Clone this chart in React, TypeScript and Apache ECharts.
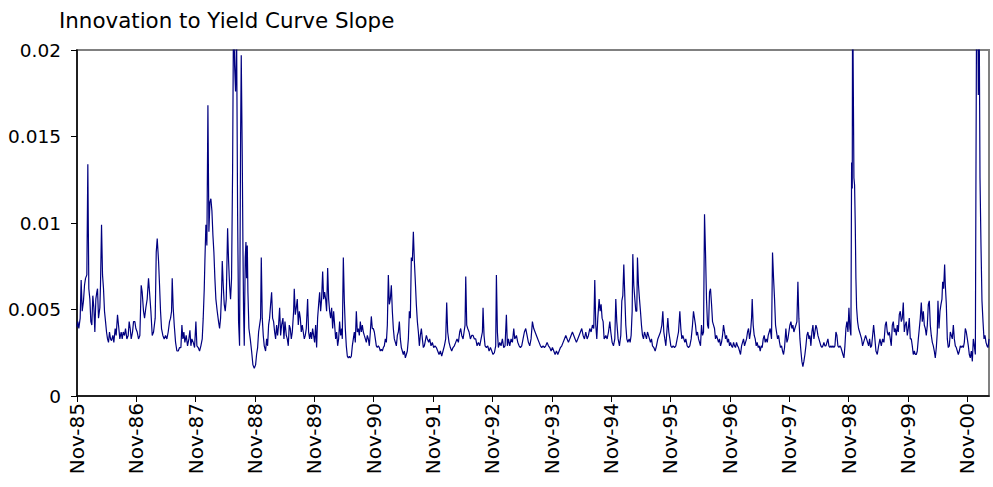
import React, { useEffect, useRef } from "react";
import * as echarts from "echarts";

// x = months since Nov-1985, y = innovation value
const seg1985: [number, number][] = [
  [0.0, 0.004], [0.17, 0.0043], [0.37, 0.0039], [0.64, 0.0045], [0.84, 0.0067], [1.05, 0.0049], [1.31, 0.0055], [1.52, 0.0064],
  [1.72, 0.0068], [1.99, 0.007], [2.19, 0.0134], [2.39, 0.0062], [2.6, 0.0056], [2.8, 0.0043], [3.0, 0.0041], [3.2, 0.0058],
  [3.41, 0.0051], [3.61, 0.0037], [3.81, 0.0056], [4.01, 0.006], [4.15, 0.0062], [4.35, 0.0045], [4.62, 0.0051], [4.75, 0.0064],
  [4.96, 0.0099], [5.16, 0.007], [5.36, 0.0062], [5.56, 0.0049], [5.77, 0.0043], [5.97, 0.0037], [6.17, 0.0033], [6.37, 0.0031],
  [6.57, 0.0037], [6.78, 0.0033], [6.98, 0.0032], [7.25, 0.0035], [7.45, 0.0031], [7.72, 0.0039], [7.92, 0.0035], [8.19, 0.0047],
  [8.46, 0.0039], [8.66, 0.0033], [8.93, 0.0037], [9.14, 0.0033], [9.34, 0.0037], [9.61, 0.0035], [9.81, 0.0039], [10.08, 0.0033],
  [10.35, 0.0035], [10.55, 0.0043], [10.76, 0.0039], [10.96, 0.0033], [11.23, 0.0037], [11.43, 0.0043], [11.7, 0.0043], [11.9, 0.0039],
  [12.17, 0.0037], [12.44, 0.0033], [12.71, 0.0035], [12.98, 0.0064], [13.18, 0.006], [13.45, 0.0049], [13.66, 0.0045], [13.92, 0.0051],
  [14.19, 0.0056], [14.46, 0.0068], [14.67, 0.006], [14.94, 0.0049], [15.21, 0.0035], [15.48, 0.0037],
];

const seg1987: [number, number][] = [
  [15.81, 0.0045], [16.02, 0.0083], [16.22, 0.0091], [16.49, 0.0078], [16.69, 0.0064], [16.89, 0.0049], [17.09, 0.0039], [17.36, 0.0035],
  [17.63, 0.0033], [17.9, 0.0035], [18.17, 0.0033], [18.44, 0.0037], [18.71, 0.0043], [18.92, 0.0045], [19.12, 0.0049], [19.25, 0.0068],
  [19.45, 0.0051], [19.66, 0.0041], [19.93, 0.0031], [20.2, 0.0026], [20.47, 0.0026], [20.74, 0.0028], [21.01, 0.0028], [21.21, 0.0041],
  [21.41, 0.0033], [21.61, 0.0037], [21.81, 0.0031], [22.08, 0.0035], [22.35, 0.0029], [22.62, 0.0033], [22.83, 0.0038], [23.03, 0.0029],
  [23.23, 0.0033], [23.5, 0.0031], [23.77, 0.0028], [24.04, 0.0043], [24.24, 0.0029], [24.51, 0.0028], [24.78, 0.0026], [25.05, 0.0029],
  [25.32, 0.0033], [25.52, 0.0045], [25.73, 0.0062], [25.86, 0.0078], [26.06, 0.0099], [26.26, 0.0087], [26.47, 0.0168], [26.67, 0.0095],
  [26.87, 0.0112], [27.07, 0.0114], [27.28, 0.0107], [27.48, 0.0093], [27.68, 0.0083], [27.88, 0.0068], [28.08, 0.0056], [28.35, 0.0049],
  [28.62, 0.0043], [28.83, 0.0039], [29.03, 0.0045], [29.23, 0.006], [29.37, 0.0078], [29.57, 0.0064], [29.77, 0.0053], [29.97, 0.0049],
  [30.18, 0.0056], [30.45, 0.0097], [30.65, 0.0078], [30.85, 0.0064], [31.05, 0.0056], [31.25, 0.0068], [31.46, 0.013], [31.66, 0.023],
  [31.86, 0.0191], [32.06, 0.0176], [32.27, 0.021], [32.47, 0.0107], [32.67, 0.0043], [32.87, 0.0029],
];

const seg1988: [number, number][] = [
  [33.08, 0.015], [33.21, 0.0197], [33.41, 0.0139], [33.55, 0.0087], [33.68, 0.0049], [33.82, 0.0029], [33.89, 0.0049], [34.02, 0.008],
  [34.16, 0.0089], [34.29, 0.0068], [34.43, 0.0087], [34.56, 0.006], [34.76, 0.0039], [35.03, 0.0033], [35.3, 0.0026], [35.57, 0.0018],
  [35.84, 0.0016], [36.11, 0.0018], [36.31, 0.0024], [36.52, 0.0028], [36.72, 0.0037], [36.92, 0.0041], [37.12, 0.0045], [37.26, 0.008],
  [37.46, 0.0045], [37.66, 0.0035], [37.86, 0.0029], [38.13, 0.0026], [38.34, 0.0033], [38.54, 0.0029], [38.74, 0.0041], [38.94, 0.0045],
  [39.15, 0.0053], [39.35, 0.006], [39.55, 0.0045], [39.75, 0.0043], [39.96, 0.0037], [40.16, 0.0033], [40.36, 0.0041], [40.56, 0.0035],
  [40.76, 0.0041], [40.97, 0.0051], [41.17, 0.0035], [41.37, 0.0041], [41.64, 0.0045], [41.84, 0.0033], [42.05, 0.0043], [42.32, 0.0035],
  [42.52, 0.0033], [42.72, 0.0029], [42.92, 0.0041], [43.12, 0.0039], [43.33, 0.0033], [43.53, 0.0037], [43.8, 0.0049], [43.93, 0.0062],
  [44.14, 0.0047], [44.34, 0.0051], [44.54, 0.0056], [44.74, 0.0041], [44.95, 0.0049], [45.15, 0.0045], [45.35, 0.0037], [45.55, 0.0041],
  [45.75, 0.0037], [45.96, 0.0033], [46.16, 0.0035], [46.36, 0.0039], [46.63, 0.0056], [46.83, 0.0037], [47.04, 0.0033], [47.24, 0.0037],
  [47.44, 0.0033], [47.64, 0.0039], [47.84, 0.0035], [48.05, 0.0031], [48.25, 0.0041], [48.45, 0.0028], [48.65, 0.0045], [48.86, 0.0053],
  [49.06, 0.006], [49.26, 0.0049], [49.46, 0.0056], [49.67, 0.0072], [49.87, 0.0056], [50.07, 0.006], [50.27, 0.0056], [50.47, 0.0049],
  [50.68, 0.0074], [50.88, 0.0056], [51.08, 0.0049], [51.28, 0.0045], [51.49, 0.0051], [51.69, 0.0039], [51.89, 0.0049],
];

const seg1990: [number, number][] = [
  [52.3, 0.0033], [52.5, 0.0037], [52.7, 0.0029], [52.9, 0.0033], [53.1, 0.0043], [53.31, 0.0035], [53.51, 0.0039], [53.64, 0.0033],
  [53.85, 0.008], [54.05, 0.0055], [54.25, 0.0039], [54.45, 0.0029], [54.66, 0.0023], [54.86, 0.0022], [55.06, 0.0023], [55.26, 0.0022],
  [55.47, 0.0023], [55.67, 0.0029], [55.87, 0.0033], [56.07, 0.0037], [56.27, 0.0031], [56.48, 0.0049], [56.68, 0.0037], [56.88, 0.0039],
  [57.08, 0.0035], [57.29, 0.0043], [57.49, 0.0037], [57.69, 0.0041], [57.89, 0.0037], [58.09, 0.0035], [58.3, 0.0033], [58.5, 0.0031],
  [58.7, 0.0035], [58.9, 0.0033], [59.11, 0.0029], [59.31, 0.0037], [59.51, 0.0046], [59.71, 0.0039], [59.91, 0.0039], [60.12, 0.0037],
  [60.32, 0.0033], [60.52, 0.0029], [60.72, 0.0028], [60.93, 0.0029], [61.13, 0.0028], [61.33, 0.0026], [61.53, 0.0027], [61.74, 0.0026],
  [61.94, 0.0028], [62.14, 0.0029], [62.34, 0.0033], [62.55, 0.0031], [62.75, 0.0041], [62.95, 0.007], [63.15, 0.0053], [63.35, 0.0056],
  [63.56, 0.0064], [63.76, 0.0049], [63.96, 0.0039], [64.16, 0.0033], [64.37, 0.0031], [64.57, 0.0029], [64.77, 0.0035], [64.97, 0.0037],
  [65.18, 0.0043], [65.38, 0.0033], [65.58, 0.0028], [65.78, 0.0026], [65.98, 0.0024], [66.19, 0.0026], [66.39, 0.0022], [66.59, 0.0024],
  [66.79, 0.0026], [67.0, 0.0033], [67.2, 0.0049], [67.4, 0.0045], [67.6, 0.008], [67.81, 0.0078], [68.01, 0.0095], [68.21, 0.0078],
  [68.41, 0.0066], [68.61, 0.0053], [68.82, 0.0043], [69.02, 0.0037], [69.22, 0.0029], [69.42, 0.0035], [69.63, 0.0039], [69.83, 0.0033],
  [70.03, 0.0028], [70.23, 0.0029],
];

const seg1991: [number, number][] = [
  [70.37, 0.0031], [70.64, 0.0035], [70.84, 0.0033], [71.11, 0.0031], [71.31, 0.0033], [71.58, 0.0029], [71.85, 0.0031], [72.12, 0.0028],
  [72.39, 0.0029], [72.66, 0.0028], [72.93, 0.0026], [73.2, 0.0024], [73.47, 0.0026], [73.74, 0.0023], [74.01, 0.0026], [74.28, 0.0029],
  [74.55, 0.0033], [74.75, 0.0054], [74.95, 0.0037], [75.22, 0.0031], [75.49, 0.0028], [75.76, 0.0026], [76.03, 0.0028], [76.3, 0.0029],
  [76.57, 0.0031], [76.84, 0.0033], [77.11, 0.0031], [77.38, 0.0037], [77.58, 0.0039], [77.79, 0.0035], [78.06, 0.0033], [78.26, 0.0037],
  [78.46, 0.0041], [78.6, 0.0069], [78.8, 0.0041], [79.0, 0.0039], [79.27, 0.0037], [79.54, 0.0033], [79.81, 0.0035], [80.08, 0.0035],
  [80.35, 0.0033], [80.62, 0.0033], [80.89, 0.0029], [81.16, 0.0031], [81.43, 0.0029], [81.7, 0.0033], [81.97, 0.0037], [82.1, 0.0051],
  [82.3, 0.0035], [82.51, 0.0029], [82.78, 0.0028], [83.05, 0.0029], [83.32, 0.0026], [83.59, 0.0028], [83.86, 0.0026], [84.12, 0.0024],
  [84.39, 0.0025], [84.66, 0.0029], [84.8, 0.007], [85.0, 0.0037], [85.2, 0.0028], [85.47, 0.0031], [85.74, 0.0029], [86.01, 0.0033],
  [86.28, 0.0028], [86.55, 0.0029], [86.82, 0.0047], [87.02, 0.0029], [87.23, 0.0033], [87.5, 0.0029], [87.77, 0.0033], [88.04, 0.0031],
  [88.31, 0.0039], [88.51, 0.0033],
];

const seg1993: [number, number][] = [
  [88.58, 0.0033], [88.85, 0.0035], [89.12, 0.0031], [89.39, 0.0029], [89.66, 0.0028], [89.92, 0.0029], [90.19, 0.0033], [90.46, 0.0037],
  [90.73, 0.0039], [91.0, 0.0035], [91.27, 0.0031], [91.54, 0.0029], [91.81, 0.0033], [92.08, 0.0043], [92.35, 0.0039], [92.62, 0.0037],
  [92.89, 0.0035], [93.16, 0.0033], [93.43, 0.0031], [93.7, 0.0029], [93.97, 0.0028], [94.24, 0.0029], [94.51, 0.0028], [94.78, 0.0029],
  [95.05, 0.0031], [95.32, 0.0029], [95.59, 0.0028], [95.86, 0.0026], [96.13, 0.0028], [96.4, 0.0026], [96.67, 0.0024], [96.94, 0.0026],
  [97.21, 0.0024], [97.48, 0.0026], [97.75, 0.0028], [98.02, 0.0029], [98.29, 0.0031], [98.56, 0.0033], [98.83, 0.0035], [99.1, 0.0033],
  [99.37, 0.0031], [99.63, 0.0033], [99.9, 0.0035], [100.17, 0.0037], [100.44, 0.0035], [100.71, 0.0033], [100.98, 0.0031], [101.25, 0.0033],
  [101.52, 0.0035], [101.79, 0.0037], [102.06, 0.0039], [102.33, 0.0035], [102.6, 0.0033], [102.87, 0.0037], [103.14, 0.0033], [103.41, 0.0035],
  [103.68, 0.0039], [103.95, 0.0037], [104.22, 0.0041], [104.49, 0.0039], [104.69, 0.0067], [104.89, 0.0041], [105.1, 0.0033], [105.3, 0.0045],
  [105.57, 0.0056], [105.77, 0.0049], [105.97, 0.0053], [106.17, 0.0045], [106.38, 0.0043], [106.58, 0.0033],
];

const seg1994: [number, number][] = [
  [106.92, 0.0035], [107.19, 0.0033], [107.46, 0.0037], [107.73, 0.0043], [107.93, 0.0037], [108.2, 0.0031], [108.47, 0.0029], [108.74, 0.0033],
  [108.94, 0.0056], [109.14, 0.0043], [109.41, 0.0033], [109.68, 0.0029], [109.95, 0.0035], [110.16, 0.0055], [110.36, 0.0058], [110.56, 0.0076],
  [110.76, 0.0058], [110.96, 0.0041], [111.17, 0.0033], [111.37, 0.0031], [111.64, 0.0033], [111.84, 0.0031], [112.04, 0.0035], [112.25, 0.0049],
  [112.38, 0.0082], [112.58, 0.0064], [112.79, 0.0056], [112.99, 0.0049], [113.19, 0.0049], [113.32, 0.008], [113.53, 0.0064], [113.73, 0.0056],
  [113.93, 0.0049], [114.13, 0.0041], [114.34, 0.0035], [114.54, 0.0033], [114.74, 0.0037], [114.94, 0.0035], [115.15, 0.0033], [115.35, 0.0037],
  [115.55, 0.0035], [115.75, 0.0033], [115.95, 0.0031], [116.16, 0.0033], [116.36, 0.0029], [116.63, 0.0028], [116.9, 0.0026], [117.17, 0.0029],
  [117.44, 0.0033], [117.71, 0.0035], [117.98, 0.0037], [118.25, 0.0041], [118.45, 0.0049], [118.65, 0.0037], [118.85, 0.0033], [119.06, 0.0029],
  [119.26, 0.0037], [119.46, 0.0045], [119.66, 0.0037], [119.87, 0.0033], [120.07, 0.0029], [120.27, 0.0028], [120.54, 0.0029], [120.81, 0.0028],
  [121.08, 0.0029], [121.35, 0.0033], [121.62, 0.0037], [121.89, 0.0049], [122.09, 0.0039], [122.29, 0.0033], [122.49, 0.0035], [122.7, 0.0033],
  [122.9, 0.0031], [123.1, 0.0033], [123.37, 0.0029], [123.64, 0.0028], [123.91, 0.0029], [124.18, 0.0033], [124.45, 0.0041], [124.65, 0.0049],
  [124.85, 0.0045],
];

const seg1996: [number, number][] = [
  [125.06, 0.0041], [125.26, 0.0035], [125.46, 0.0037], [125.67, 0.0033], [125.87, 0.0031], [126.07, 0.0029], [126.27, 0.0041], [126.48, 0.0035],
  [126.68, 0.0037], [126.88, 0.0105], [127.08, 0.0083], [127.28, 0.0056], [127.49, 0.0041], [127.69, 0.0039], [127.89, 0.006], [128.09, 0.0062],
  [128.3, 0.0053], [128.5, 0.0043], [128.7, 0.0041], [128.9, 0.0039], [129.1, 0.0033], [129.31, 0.0035], [129.51, 0.0033], [129.71, 0.0031],
  [129.91, 0.0033], [130.12, 0.0029], [130.32, 0.0031], [130.52, 0.0035], [130.72, 0.0041], [130.93, 0.0037], [131.13, 0.0033], [131.33, 0.0035],
  [131.53, 0.0031], [131.73, 0.0033], [131.94, 0.0029], [132.14, 0.0031], [132.34, 0.0029], [132.54, 0.0028], [132.75, 0.0031], [132.95, 0.0029],
  [133.15, 0.0028], [133.35, 0.0031], [133.56, 0.0029], [133.76, 0.0028], [133.96, 0.0026], [134.16, 0.0024], [134.37, 0.0029], [134.57, 0.0031],
  [134.77, 0.0033], [134.97, 0.0029], [135.17, 0.0031], [135.38, 0.0033], [135.58, 0.0037], [135.78, 0.0039], [135.98, 0.0033], [136.19, 0.0037],
  [136.39, 0.0045], [136.52, 0.0056], [136.72, 0.0041], [136.93, 0.0035], [137.13, 0.0033], [137.33, 0.0029], [137.53, 0.0031], [137.74, 0.0028],
  [137.94, 0.0029], [138.14, 0.0026], [138.34, 0.0029], [138.54, 0.0028], [138.75, 0.0033], [138.95, 0.0035], [139.15, 0.0031], [139.35, 0.0033],
  [139.56, 0.0031], [139.76, 0.0035], [139.96, 0.0037], [140.16, 0.0039], [140.43, 0.0033], [140.63, 0.0083], [140.84, 0.0068], [141.04, 0.0056],
  [141.24, 0.0041], [141.44, 0.0037], [141.65, 0.0033], [141.85, 0.0035], [142.05, 0.0031], [142.25, 0.0028], [142.46, 0.0029], [142.66, 0.0026],
  [142.86, 0.0024], [143.06, 0.0028],
];

const seg1997: [number, number][] = [
  [143.33, 0.0039], [143.54, 0.0031], [143.74, 0.0033], [143.94, 0.0037], [144.14, 0.0041], [144.35, 0.0043], [144.55, 0.0039], [144.75, 0.0041],
  [144.95, 0.0037], [145.15, 0.0039], [145.36, 0.0041], [145.56, 0.0043], [145.76, 0.0066], [145.96, 0.0045], [146.17, 0.0033], [146.37, 0.0026],
  [146.57, 0.002], [146.77, 0.0017], [146.97, 0.002], [147.18, 0.0024], [147.38, 0.0029], [147.58, 0.0035], [147.78, 0.0037], [147.99, 0.0033],
  [148.19, 0.0035], [148.39, 0.0029], [148.59, 0.0037], [148.8, 0.0041], [149.0, 0.0033], [149.2, 0.0037], [149.4, 0.0041], [149.6, 0.0039],
  [149.81, 0.0035], [150.01, 0.0033], [150.21, 0.0031], [150.41, 0.0029], [150.62, 0.0028], [150.82, 0.0029], [151.02, 0.0031], [151.22, 0.0029],
  [151.43, 0.0029], [151.63, 0.0031], [151.83, 0.0033], [152.03, 0.0029], [152.23, 0.0028], [152.44, 0.0029], [152.64, 0.0028], [152.84, 0.0029],
  [153.04, 0.0028], [153.25, 0.0029], [153.45, 0.0037], [153.65, 0.0035], [153.85, 0.0029], [154.06, 0.0028], [154.26, 0.0029], [154.46, 0.0028],
  [154.66, 0.0026], [154.86, 0.0024], [155.07, 0.0022], [155.27, 0.0029], [155.47, 0.0039], [155.67, 0.0043], [155.88, 0.0037], [156.08, 0.0051],
  [156.28, 0.0039], [156.48, 0.0035], [156.62, 0.0135], [156.75, 0.012], [156.82, 0.024], [156.95, 0.024], [157.09, 0.0126], [157.22, 0.0122],
  [157.36, 0.0099], [157.49, 0.0068], [157.63, 0.0051], [157.83, 0.0043], [158.03, 0.0039], [158.24, 0.0037], [158.44, 0.0035], [158.64, 0.0033],
  [158.84, 0.0029], [159.04, 0.0031], [159.25, 0.0033], [159.45, 0.0035], [159.65, 0.0033], [159.85, 0.0031], [160.06, 0.0029], [160.26, 0.0033],
  [160.46, 0.0028], [160.66, 0.0029], [160.87, 0.0035], [161.07, 0.0041], [161.27, 0.0035],
];

const seg1999: [number, number][] = [
  [161.54, 0.0026], [161.81, 0.0024], [162.08, 0.0029], [162.35, 0.0033], [162.62, 0.0029], [162.89, 0.0033], [163.16, 0.0031], [163.43, 0.0041],
  [163.63, 0.0043], [163.83, 0.0037], [164.04, 0.0035], [164.24, 0.0037], [164.44, 0.0033], [164.64, 0.0029], [164.85, 0.0041], [165.05, 0.0043],
  [165.25, 0.0037], [165.45, 0.0039], [165.65, 0.0035], [165.86, 0.0041], [166.06, 0.0037], [166.26, 0.0047], [166.46, 0.0049], [166.67, 0.0043],
  [166.87, 0.0045], [167.07, 0.0054], [167.27, 0.0037], [167.47, 0.0041], [167.68, 0.0043], [167.88, 0.0035], [168.08, 0.0039], [168.28, 0.0045],
  [168.49, 0.0033], [168.69, 0.0033], [168.89, 0.0029], [169.09, 0.0024], [169.3, 0.0026], [169.5, 0.0024], [169.7, 0.0024], [169.9, 0.0026],
  [170.11, 0.0033], [170.31, 0.0039], [170.51, 0.0045], [170.71, 0.0054], [170.91, 0.0043], [171.12, 0.0049], [171.32, 0.0041], [171.52, 0.0039],
  [171.72, 0.0035], [171.93, 0.0041], [172.13, 0.0053], [172.33, 0.0055], [172.53, 0.0041], [172.73, 0.0035], [172.94, 0.0031], [173.14, 0.0029],
  [173.34, 0.0026], [173.54, 0.0022], [173.75, 0.0028], [173.95, 0.0037], [174.08, 0.0055], [174.29, 0.0039], [174.49, 0.0049], [174.69, 0.0053],
  [174.89, 0.0056], [175.03, 0.0066], [175.23, 0.0062], [175.43, 0.0076], [175.57, 0.0064], [175.77, 0.0053], [175.97, 0.0033], [176.17, 0.0028],
  [176.38, 0.0029], [176.58, 0.0037], [176.78, 0.0035], [176.98, 0.0033], [177.19, 0.0041], [177.39, 0.0033], [177.59, 0.0029], [177.79, 0.0028],
  [177.99, 0.0026], [178.2, 0.0024], [178.4, 0.0026], [178.6, 0.0029], [178.8, 0.0028], [179.0, 0.0029], [179.21, 0.0028], [179.41, 0.0031],
  [179.61, 0.0039], [179.81, 0.0037], [180.02, 0.0033], [180.22, 0.0029], [180.42, 0.0024], [180.62, 0.0022], [180.83, 0.0026], [181.03, 0.002],
  [181.23, 0.0033], [181.43, 0.0029], [181.64, 0.0024], [181.77, 0.0133], [181.91, 0.024], [182.11, 0.024], [182.24, 0.0174], [182.38, 0.024],
  [182.58, 0.0126], [182.78, 0.0087], [182.98, 0.0055], [183.19, 0.0043], [183.39, 0.0033], [183.59, 0.0035], [183.79, 0.0031], [184.0, 0.0029],
  [184.2, 0.0028], [184.4, 0.0033],
];

const xLabels = [
  "Nov-85", "Nov-86", "Nov-87", "Nov-88", "Nov-89", "Nov-90", "Nov-91", "Nov-92",
  "Nov-93", "Nov-94", "Nov-95", "Nov-96", "Nov-97", "Nov-98", "Nov-99", "Nov-00",
];
const xMaxMonths = 184.4;
const yTicks = [0, 0.005, 0.01, 0.015, 0.02];
const titleText = "Innovation to Yield Curve Slope";

export default function App() {
  const ref = useRef<HTMLDivElement>(null);
  useEffect(() => {
    if (!ref.current) return;
    const chart = echarts.init(ref.current, undefined, { renderer: "svg" });
    const data = [
      ...seg1985, ...seg1987, ...seg1988, ...seg1990, ...seg1991,
      ...seg1993, ...seg1994, ...seg1996, ...seg1997, ...seg1999,
    ];
    const tickMonths = xLabels.map((_, i) => i * 12);
    const font = "'DejaVu Sans', sans-serif";
    chart.setOption({
      animation: false,
      backgroundColor: "#ffffff",
      title: {
        text: titleText,
        left: 59,
        top: 10,
        padding: 0,
        textStyle: { fontFamily: font, fontSize: 21.4, fontWeight: "normal", color: "#000" },
      },
      grid: {
        left: 77,
        right: 4,
        top: 50,
        bottom: 91,
        show: true,
        borderColor: "#808080",
        borderWidth: 2,
        backgroundColor: "#ffffff",
      },
      xAxis: {
        type: "value",
        min: 0,
        max: xMaxMonths,
        splitLine: { show: false },
        axisLine: { show: true, lineStyle: { color: "#000", width: 1.5 } },
        axisTick: {
          show: true,
          length: 6,
          customValues: tickMonths,
          lineStyle: { color: "#000", width: 1 },
        },
        axisLabel: {
          customValues: tickMonths,
          rotate: 90,
          margin: 7,
          fontFamily: font,
          fontSize: 20,
          color: "#000",
          formatter: (v: number) => xLabels[Math.round(v / 12)] ?? "",
        },
      },
      yAxis: {
        type: "value",
        min: yTicks[0],
        max: yTicks[yTicks.length - 1],
        interval: 0.005,
        splitLine: { show: false },
        axisLine: { show: true, lineStyle: { color: "#000", width: 1.5 } },
        axisTick: { show: true, length: 6, lineStyle: { color: "#000", width: 1 } },
        axisLabel: {
          margin: 16,
          fontFamily: font,
          fontSize: 18.5,
          color: "#000",
        },
      },
      series: [
        {
          type: "line",
          data,
          showSymbol: false,
          clip: true,
          lineStyle: { color: "#000080", width: 1.2 },
        },
      ],
    });
    return () => chart.dispose();
  }, []);
  return (
    <div
      ref={ref}
      style={{ position: "absolute", left: 0, top: 0, width: 993, height: 487 }}
    />
  );
}
